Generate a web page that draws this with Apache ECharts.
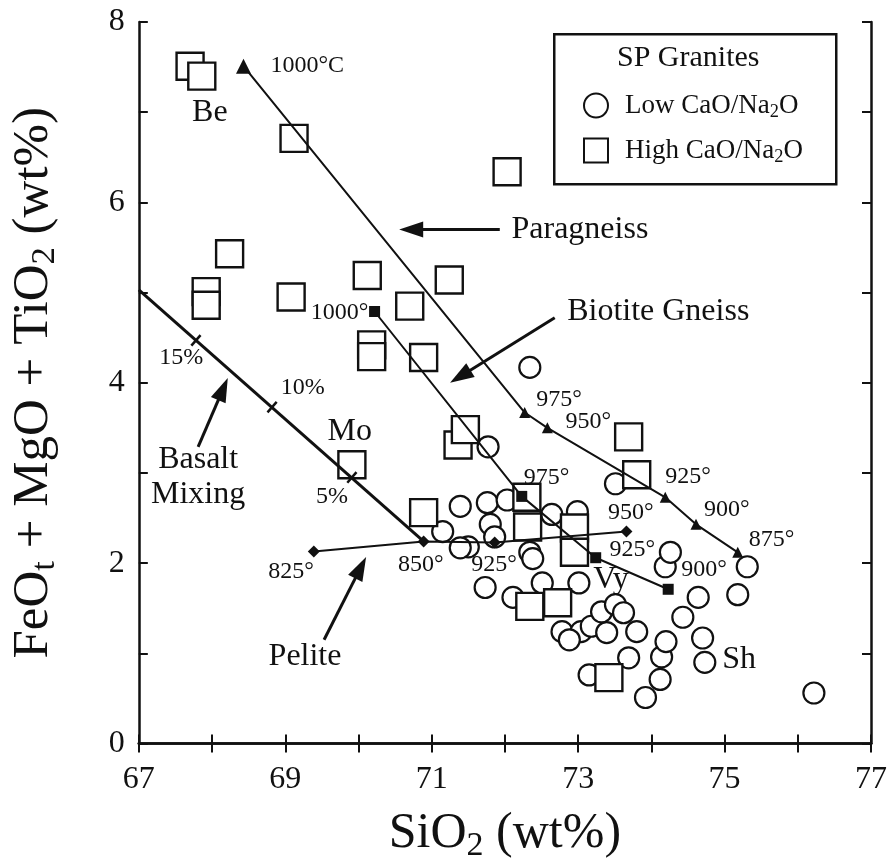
<!DOCTYPE html>
<html>
<head>
<meta charset="utf-8">
<script src="https://cdn.jsdelivr.net/npm/echarts@6/dist/echarts.min.js"></script>
<style>
  html, body { margin: 0; padding: 0; background: #fff; }
  #chart { width: 890px; height: 868px; }
</style>
</head>
<body>
<div id="chart"></div>
<script>
// SiO2 (wt%), FeOt+MgO+TiO2 (wt%)
const lowCaO = [
  [72.34, 4.17], [71.77, 3.29], [73.51, 2.88], [71.15, 2.35], [71.39, 2.63],
  [71.76, 2.67], [72.03, 2.70], [71.50, 2.18], [71.39, 2.17], [71.80, 2.43],
  [71.86, 2.29], [71.73, 1.73], [72.34, 2.12], [72.38, 2.05], [72.64, 2.54],
  [72.99, 2.57], [72.51, 1.78], [72.11, 1.62], [73.01, 1.78], [72.78, 1.24],
  [73.04, 1.24], [73.18, 1.30], [73.39, 1.23], [73.32, 1.46], [73.51, 1.54],
  [73.62, 1.45], [73.80, 1.24], [73.69, 0.95], [73.15, 0.76], [73.92, 0.51],
  [74.12, 0.71], [74.14, 0.96], [74.20, 1.13], [74.43, 1.40], [74.64, 1.62],
  [74.70, 1.17], [74.73, 0.90], [74.19, 1.96], [74.26, 2.12], [75.18, 1.65],
  [75.31, 1.96], [76.22, 0.56], [72.88, 1.15]
];
const highCaO = [
  [67.70, 7.51], [67.86, 7.40], [69.12, 6.71], [72.03, 6.34], [68.24, 5.43],
  [67.92, 5.01], [67.92, 4.86], [69.08, 4.95], [70.12, 5.19], [70.70, 4.85],
  [71.24, 5.14], [70.18, 4.42], [70.18, 4.29], [70.89, 4.28], [69.91, 3.09],
  [71.36, 3.31], [71.46, 3.48], [73.69, 3.40], [73.80, 2.98], [70.89, 2.56],
  [72.30, 2.73], [72.31, 2.40], [72.95, 2.39], [72.95, 2.12], [72.34, 1.52],
  [72.72, 1.56], [73.42, 0.73]
];

// melting trends
const paragneiss = [[68.43, 7.51], [72.27, 3.67], [72.58, 3.50], [74.19, 2.73], [74.61, 2.43], [75.18, 2.12]];
const biotiteGneiss = [[70.22, 4.79], [72.23, 2.74], [73.24, 2.06], [74.23, 1.71]];
const pelite = [[69.39, 2.13], [70.89, 2.24], [71.86, 2.23], [73.66, 2.35]];
const basaltMixing = [[67.0, 5.03], [70.89, 2.24]];
const basaltTicks = [[67.78, 4.47], [68.82, 3.73], [69.91, 2.95]];

// labels: [x, y, text]
const tempLabels = [
  [69.30, 7.52, '1000°C'], [69.74, 4.78, '1000°'],
  [72.74, 3.81, '975°'], [73.14, 3.57, '950°'], [74.50, 2.96, '925°'],
  [75.03, 2.59, '900°'], [75.64, 2.26, '875°'],
  [72.57, 2.95, '975°'], [73.72, 2.56, '950°'], [73.74, 2.15, '925°'],
  [74.72, 1.93, '900°'], [71.85, 1.98, '925°'], [70.85, 1.98, '850°'],
  [69.08, 1.91, '825°'],
  [67.58, 4.28, '15%'], [69.24, 3.94, '10%'], [69.64, 2.74, '5%']
];
const nameLabels = [
  [67.97, 6.99, 'Be'], [69.88, 3.46, 'Mo'], [73.45, 1.82, 'Vy'], [75.20, 0.93, 'Sh'],
  [69.27, 0.96, 'Pelite'], [67.81, 2.95, 'Basalt\nMixing']
];
const leftLabels = [
  [72.09, 5.70, 'Paragneiss'], [72.85, 4.79, 'Biotite Gneiss']
];
// arrows: [tail, head]
const arrows = [
  [[71.93, 5.70], [70.72, 5.70]],
  [[72.68, 4.72], [71.39, 4.07]],
  [[67.81, 3.29], [68.15, 3.93]],
  [[69.53, 1.15], [70.03, 1.95]]
];

const FONT = 'Liberation Serif';
const INK = '#111';
const subRich = (size) => ({
  n: { fontFamily: FONT, fontSize: size, color: INK, lineHeight: size * 1.15 },
  s: { fontFamily: FONT, fontSize: size * 0.68, color: INK, lineHeight: size * 0.6, verticalAlign: 'bottom' }
});

const axisLine = { show: true, lineStyle: { color: INK, width: 2.5 } };
const ticks = { show: true, inside: true, length: 9, lineStyle: { color: INK, width: 2 } };

function labelSeries(list, size, align) {
  return {
    type: 'scatter', symbolSize: 0, silent: true, z: 10,
    itemStyle: { opacity: 1 },
    data: list.map(d => ({ value: [d[0], d[1]], name: d[2] })),
    label: {
      show: true, position: 'inside', formatter: '{b}', align: align || 'center',
      fontFamily: FONT, fontSize: size, color: INK, lineHeight: size * 1.1
    }
  };
}

const chart = echarts.init(document.getElementById('chart'));
chart.setOption({
  animation: false,
  backgroundColor: '#fff',
  grid: { left: 135, right: 14, top: 22, bottom: 124 },
  xAxis: [{
    type: 'value', min: 67, max: 77, interval: 1,
    axisLine, axisTick: ticks, splitLine: { show: false },
    axisLabel: {
      margin: 20, fontFamily: FONT, fontSize: 32, color: INK,
      formatter: v => (v % 2 === 1 ? String(v) : '')
    },
    name: '{n|SiO}{s|2}{n| (wt%)}', nameLocation: 'middle', nameGap: 62,
    nameTextStyle: { rich: subRich(50) }
  }, {
    type: 'value', position: 'top', min: 67, max: 77, interval: 1,
    axisLine, axisTick: ticks, axisLabel: { show: false }, splitLine: { show: false }
  }],
  yAxis: [{
    type: 'value', min: 0, max: 8, interval: 1,
    axisLine, axisTick: ticks, splitLine: { show: false },
    axisLabel: {
      margin: 14, fontFamily: FONT, fontSize: 32, color: INK,
      formatter: v => (v % 2 === 0 ? String(v) : '')
    },
    name: '{n|FeO}{s|t}{n| + MgO + TiO}{s|2}{n| (wt%)}', nameLocation: 'middle', nameGap: 76,
    nameTextStyle: { rich: subRich(51) }
  }, {
    type: 'value', position: 'right', min: 0, max: 8, interval: 1,
    axisLine, axisTick: ticks, axisLabel: { show: false }, splitLine: { show: false }
  }],
  legend: {
    orient: 'vertical', left: 578, top: 87, itemWidth: 24, itemHeight: 24, itemGap: 16,
    selectedMode: false,
    data: ['Low CaO/Na2O', 'High CaO/Na2O'],
    formatter: n => '{n|' + n.replace('Na2O', 'Na}{s|2}{n|O') + '}',
    textStyle: { padding: [0, 0, 0, 12], rich: subRich(27) }
  },
  graphic: [
    { type: 'rect', left: 553, top: 33, shape: { width: 282, height: 150 },
      style: { fill: '#fff', stroke: INK, lineWidth: 2.5 }, z: 0 },
    { type: 'text', left: 617, top: 43, z: 1,
      style: { text: 'SP Granites', font: '30px "Liberation Serif"', fill: INK } }
  ],
  series: [
    {
      name: 'Low CaO/Na2O', type: 'scatter', symbol: 'circle', symbolSize: 21, z: 2,
      itemStyle: { color: '#fff', borderColor: INK, borderWidth: 2.2, opacity: 1 },
      data: lowCaO
    },
    {
      name: 'High CaO/Na2O', type: 'scatter', symbol: 'rect', symbolSize: 27, z: 3,
      itemStyle: { color: '#fff', borderColor: INK, borderWidth: 2.4, opacity: 1 },
      data: highCaO
    },
    {
      name: 'Paragneiss', type: 'line', z: 5, symbol: 'triangle',
      symbolSize: (v, p) => (p.dataIndex === 0 ? 15 : 11),
      lineStyle: { color: INK, width: 2 }, itemStyle: { color: INK },
      data: paragneiss
    },
    {
      name: 'Biotite Gneiss', type: 'line', z: 5, symbol: 'rect', symbolSize: 11,
      lineStyle: { color: INK, width: 2 }, itemStyle: { color: INK },
      data: biotiteGneiss
    },
    {
      name: 'Pelite', type: 'line', z: 5, symbol: 'diamond', symbolSize: 12,
      lineStyle: { color: INK, width: 2 }, itemStyle: { color: INK },
      data: pelite
    },
    {
      name: 'Basalt Mixing', type: 'line', z: 4, symbol: 'none',
      lineStyle: { color: INK, width: 3 },
      data: basaltMixing
    },
    {
      name: 'Basalt ticks', type: 'scatter', z: 5, symbol: 'rect',
      symbolSize: [2.5, 14], symbolRotate: -41,
      itemStyle: { color: INK, opacity: 1 },
      data: basaltTicks
    },
    {
      name: 'Arrows', type: 'line', data: [], z: 6,
      markLine: {
        silent: true, symbol: ['none', 'triangle'], symbolSize: [16, 24],
        label: { show: false },
        lineStyle: { color: INK, width: 3, type: 'solid' },
        itemStyle: { color: INK },
        data: arrows.map(a => [{ coord: a[0] }, { coord: a[1] }])
      }
    },
    labelSeries(tempLabels, 24),
    labelSeries(nameLabels, 32),
    labelSeries(leftLabels, 32, 'left')
  ]
});
</script>
</body>
</html>
